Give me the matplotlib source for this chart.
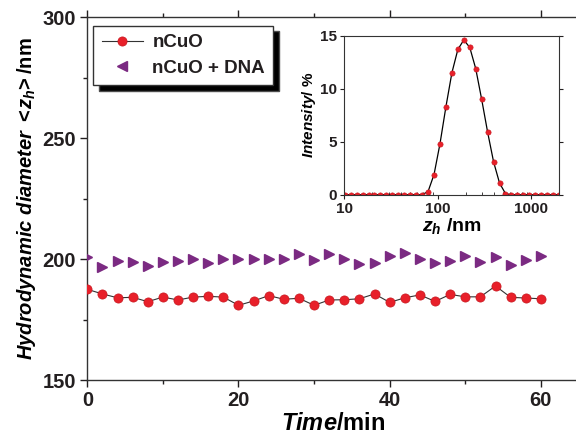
import matplotlib
matplotlib.use("Agg")
import matplotlib.pyplot as plt
from matplotlib.lines import Line2D
from matplotlib.ticker import LogLocator, NullFormatter

# ---- data ----
time_min = [0, 2, 4, 6, 8, 10, 12, 14, 16, 18, 20, 22, 24, 26, 28, 30,
            32, 34, 36, 38, 40, 42, 44, 46, 48, 50, 52, 54, 56, 58, 60]
ncuo = [187.5, 185.6, 184.0, 184.2, 182.4, 184.3, 183.1, 184.3, 184.6, 184.3,
        180.9, 182.7, 184.9, 183.4, 183.8, 180.9, 183.1, 183.2, 183.6, 185.6,
        182.1, 184.0, 185.2, 182.5, 185.4, 184.4, 184.4, 188.9, 184.2, 183.9, 183.6]
ncuo_dna = [201.0, 196.9, 199.3, 198.8, 197.1, 198.7, 199.1, 200.0, 198.5, 199.9,
            200.0, 199.9, 199.9, 199.9, 202.1, 199.6, 202.1, 200.0, 197.8, 198.3,
            201.3, 202.6, 200.2, 198.3, 199.2, 201.3, 198.7, 201.0, 197.6, 199.6, 201.3]

size_nm = [10.10, 11.70, 13.54, 15.69, 18.17, 21.04, 24.36, 28.21, 32.67, 37.84, 43.82,
           50.75, 58.77, 68.06, 78.82, 91.28, 105.7, 122.4, 141.8, 164.2, 190.1,
           220.2, 255.0, 295.3, 342.0, 396.1, 458.7, 531.2, 615.1, 712.4, 825.0,
           955.4, 1106, 1281, 1484, 1718, 1990]
intensity = [0, 0, 0, 0, 0, 0, 0, 0, 0, 0, 0,
             0, 0, 0, 0.3, 1.9, 4.8, 8.3, 11.5, 13.7, 14.6,
             13.9, 11.9, 9.0, 5.9, 3.1, 1.1, 0.1, 0, 0, 0,
             0, 0, 0, 0, 0, 0]

main_yticks = [150, 200, 250, 300]
main_xticks = [0, 20, 40, 60]
inset_yticks = [0, 5, 10, 15]
inset_xticks = [10, 100, 1000]

RED = "#e8202a"
PURPLE = "#7b2a82"
TXT = "#231f20"

plt.rcParams['font.family'] = ['Liberation Sans', 'DejaVu Sans']
plt.rcParams['font.weight'] = 'bold'
plt.rcParams['axes.labelweight'] = 'bold'
plt.rcParams['mathtext.fontset'] = 'custom'
plt.rcParams['mathtext.it'] = 'Liberation Sans:italic:bold'
plt.rcParams['mathtext.rm'] = 'Liberation Sans:bold'
plt.rcParams['mathtext.bf'] = 'Liberation Sans:bold'
plt.rcParams['text.color'] = TXT
plt.rcParams['xtick.color'] = TXT
plt.rcParams['ytick.color'] = TXT

fig = plt.figure(figsize=(5.76, 4.41), dpi=100)
ax = fig.add_axes([0.1516, 0.1383, 0.853, 0.8224])

ax.plot(time_min, ncuo, '-', color='#333333', lw=0.8, marker='o', ms=6.6,
        mfc=RED, mec='#c8161e', mew=0.5, zorder=3)
ax.plot(time_min, ncuo_dna, linestyle='none', marker='>', ms=7.8,
        mfc=PURPLE, mec=PURPLE, zorder=3)

ax.set_xlim(0, 65)
ax.set_ylim(150, 300)
ax.set_xticks(main_xticks)
ax.set_xticks([10, 30, 50], minor=True)
ax.set_yticks(main_yticks)
ax.set_yticks([175, 225, 275], minor=True)
ax.tick_params(which='major', direction='out', length=5, width=1, labelsize=14.5, pad=3)
ax.tick_params(which='minor', direction='out', length=3, width=1)
ax.tick_params(axis='x', which='both', top=True)
for lab in ax.get_xticklabels() + ax.get_yticklabels():
    lab.set_fontweight('bold')
ax.spines['right'].set_visible(False)
for s in ax.spines.values():
    s.set_linewidth(1.0)
    s.set_color('#333333')

ax.set_xlabel(r'$\mathit{Time}$/min', fontsize=17, labelpad=1)
ax.set_ylabel(r'$\mathit{Hydrodynamic\ diameter}$ $\mathit{<}\!\mathit{z}_\mathit{h}\!\mathit{>}$/nm',
              fontsize=14.5, labelpad=3)

handles = [Line2D([], [], color='#333333', lw=0.8, marker='o', ms=6.6,
                  mfc=RED, mec='#c8161e', mew=0.5),
           Line2D([], [], linestyle='none', marker='<', ms=7.8,
                  mfc=PURPLE, mec=PURPLE)]
leg = ax.legend(handles, ['nCuO', 'nCuO + DNA'], loc='upper left',
                bbox_to_anchor=(0.012, 0.977), fancybox=False,
                shadow={'ox': 4, 'oy': -4, 'facecolor': 'k', 'alpha': 1},
                prop={'weight': 'bold', 'size': 13.5}, handlelength=2.2,
                borderpad=0.45, labelspacing=0.45, handletextpad=0.5,
                borderaxespad=0, framealpha=1)
leg.get_frame().set_edgecolor('#333333')
leg.get_frame().set_linewidth(1.0)

# ---- inset ----
ins = fig.add_axes([0.5977, 0.5585, 0.3733, 0.3605])
ins.plot(size_nm, intensity, '-', color='k', lw=0.9, marker='o', ms=3.8,
         mfc=RED, mec='#c8161e', mew=0.4, clip_on=True)
ins.set_xscale('log')
ins.set_xlim(10, 2000)
ins.set_ylim(0, 15)
ins.set_xticks(inset_xticks)
ins.set_xticklabels(['10', '100', '1000'])
ins.xaxis.set_minor_locator(LogLocator(base=10, subs=range(2, 10)))
ins.xaxis.set_minor_formatter(NullFormatter())
ins.set_yticks(inset_yticks)
ins.tick_params(which='major', direction='out', length=3, width=0.8, labelsize=11, pad=2)
ins.tick_params(which='minor', direction='in', length=2, width=0.6)
ins.tick_params(axis='y', right=True, which='both')
for lab in ins.get_xticklabels() + ins.get_yticklabels():
    lab.set_fontweight('bold')
for s in ins.spines.values():
    s.set_linewidth(0.8)
    s.set_color('#333333')
ins.set_xlabel(r'$\mathit{z}_\mathit{h}$ /nm', fontsize=14, labelpad=0)
ins.set_ylabel(r'$\mathit{Intensity}$/ %', fontsize=11, labelpad=2)

fig.savefig('out.png', dpi=100)
